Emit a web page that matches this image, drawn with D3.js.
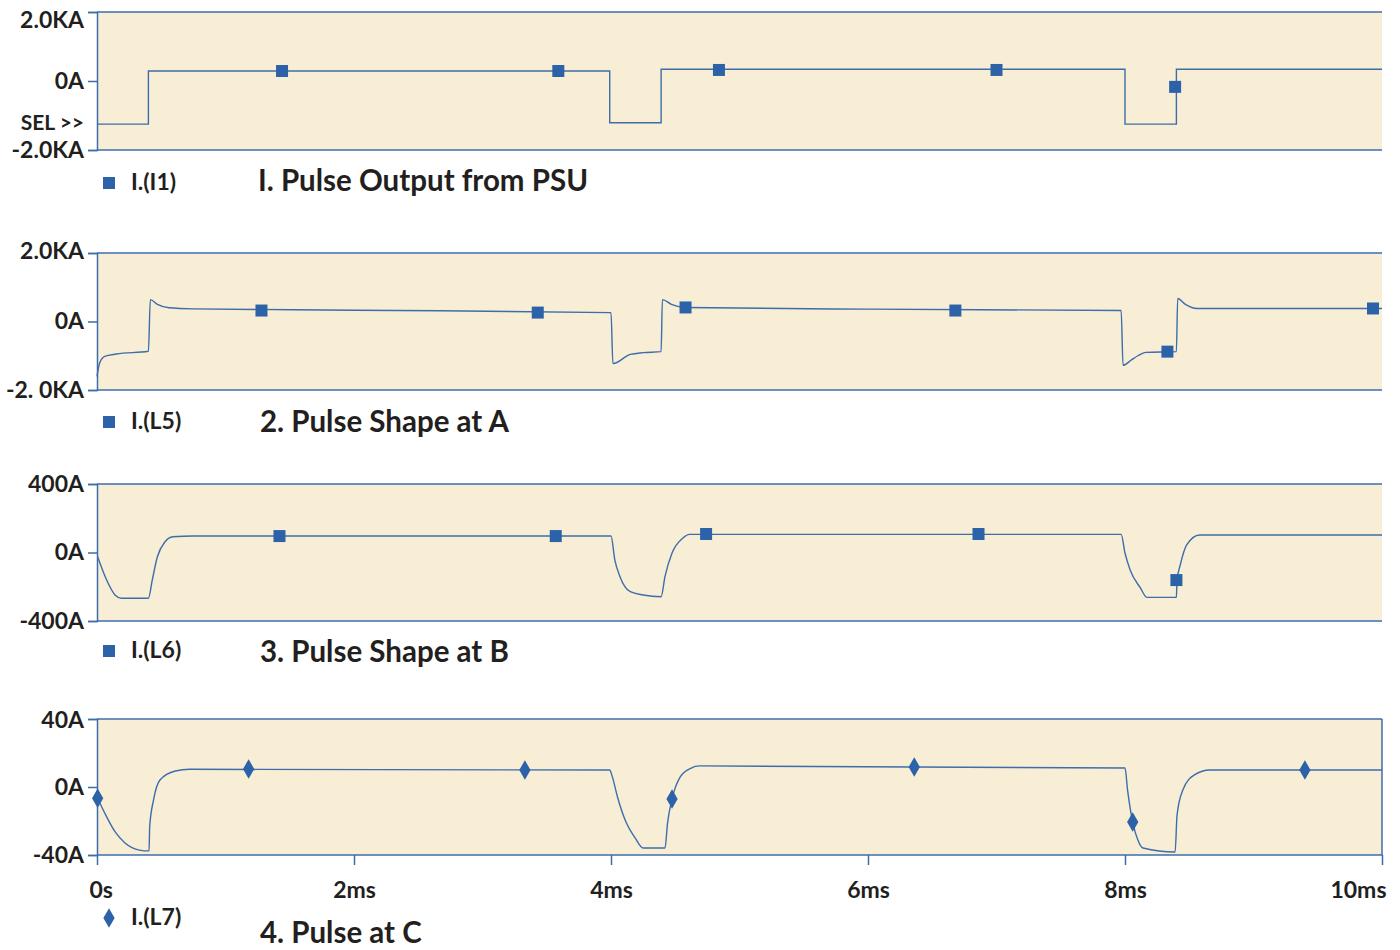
<!DOCTYPE html>
<html lang="en">
<head>
<meta charset="utf-8">
<title>Pulse shapes</title>
<script src="https://d3js.org/d3.v7.min.js"></script>
<style>
  body { margin: 0; background: #fff; }
  text { font-family: Lato, "Open Sans", sans-serif; font-weight: bold; fill: #231f20; }
</style>
</head>
<body>
<script>
// time axis (ms)
var timeTicks = [0, 2, 4, 6, 8, 10];
var timeLabels = ['0s', '2ms', '4ms', '6ms', '8ms', '10ms'];

// panel 1: I.(I1), kA
var i1Ticks = ['-2.0KA', '0A', '2.0KA'];
var i1Points = [[0,-1.25],[0.40,-1.25],[0.40,0.29],[3.99,0.29],[3.99,-1.21],[4.39,-1.21],[4.39,0.34],[8.0,0.34],[8.0,-1.25],[8.40,-1.25],[8.40,0.34],[10,0.34]];
var i1Markers = [[1.44,0.29],[3.59,0.29],[4.84,0.32],[7.0,0.32],[8.39,-0.17]];

// panel 2: I.(L5), kA
var l5Ticks = ['-2. 0KA', '0A', '2.0KA'];
var l5Points = [[0,-1.6],[0.02,-1.22],[0.06,-1.02],[0.15,-0.95],[0.40,-0.87],[0.415,0.64],[0.47,0.5],[0.56,0.4],[0.75,0.37],[2,0.33],[4.0,0.26],
  [4.015,-1.23],[4.15,-0.96],[4.25,-0.91],[4.39,-0.88],[4.40,0.64],[4.47,0.5],[4.58,0.41],[6,0.36],[7.97,0.32],
  [7.985,-1.28],[8.05,-1.12],[8.1,-1.0],[8.16,-0.9],[8.40,-0.88],[8.41,0.67],[8.47,0.5],[8.56,0.38],[10,0.38]];
var l5Markers = [[1.28,0.32],[3.43,0.26],[4.58,0.41],[6.68,0.32],[8.33,-0.88],[9.93,0.38]];

// panel 3: I.(L6), A
var l6Ticks = ['-400A', '0A', '400A'];
var l6Points = [[0.005,-25],[0.075,-161],[0.14,-248],[0.19,-267],[0.40,-267],[0.43,-161],[0.47,-25],[0.53,63],[0.59,92],[0.75,96],[4.0,96],
  [4.03,-44],[4.07,-141],[4.15,-229],[4.25,-248],[4.39,-258],[4.42,-141],[4.475,-3],[4.56,85],[4.61,106],[7.97,106],
  [8.0,-3],[8.04,-102],[8.12,-207],[8.17,-262],[8.40,-262],[8.405,-161],[8.43,-73],[8.48,44],[8.58,102],[10,102]];
var l6Markers = [[1.42,96],[3.57,96],[4.74,108],[6.86,108],[8.40,-161]];

// panel 4: I.(L7), A
var l7Ticks = ['-40A', '0A', '40A'];
var l7Points = [[0.005,-6.6],[0.06,-15.3],[0.14,-26.3],[0.22,-33.1],[0.33,-37.1],[0.405,-37.6],[0.41,-23.4],[0.44,-7.6],[0.49,4.1],[0.61,9.4],[0.72,10.4],[3.99,10],
  [4.01,6.1],[4.05,-5.7],[4.11,-19.4],[4.19,-30.2],[4.25,-35.9],[4.42,-35.9],[4.44,-21.2],[4.475,-7.1],[4.54,6.1],[4.62,11],[4.69,12.4],[8.0,11.2],
  [8.02,-1.8],[8.06,-20.6],[8.10,-31.2],[8.14,-35.9],[8.39,-38.2],[8.405,-16.5],[8.45,-1.8],[8.54,7.1],[8.66,10],[10,10]];
var l7Markers = [[0.005,-6.6],[1.18,10.6],[3.33,10],[4.475,-7.1],[6.36,11.8],[8.06,-20.6],[9.40,10]];

var w = 1400, h = 950;
var left = 97, right = 1382;
var bg = '#f8edd5', blue = '#2b62a8', lineCol = '#3d6dab';

var svg = d3.select('body').append('svg')
    .attr('width', w)
    .attr('height', h);

var x = d3.scaleLinear().domain([0, 10]).range([left, right]);

var panels = [
  { top: 12,  bottom: 150, max: 2,   ticks: i1Ticks, pts: i1Points, marks: i1Markers, curve: d3.curveLinear,
    name: 'I.(I1)', title: 'I. Pulse Output from PSU', legendY: 183, titleX: 258, titleY: 181, shape: d3.symbolSquare, topDy: 8 },
  { top: 253, bottom: 390, max: 2,   ticks: l5Ticks, pts: l5Points, marks: l5Markers, curve: d3.curveMonotoneX,
    name: 'I.(L5)', title: '2. Pulse Shape at A', legendY: 422, titleX: 260, titleY: 422, shape: d3.symbolSquare, topDy: -2 },
  { top: 484, bottom: 621, max: 400, ticks: l6Ticks, pts: l6Points, marks: l6Markers, curve: d3.curveMonotoneX,
    name: 'I.(L6)', title: '3. Pulse Shape at B', legendY: 651, titleX: 260, titleY: 652, shape: d3.symbolSquare, topDy: 0 },
  { top: 719, bottom: 855, max: 40,  ticks: l7Ticks, pts: l7Points, marks: l7Markers, curve: d3.curveMonotoneX,
    name: 'I.(L7)', title: '4. Pulse at C', legendY: 918, titleX: 260, titleY: 933, shape: d3.symbolDiamond, topDy: 1 }
];

panels.forEach(function(p, i) {
    var y = d3.scaleLinear().domain([-p.max, p.max]).range([p.bottom, p.top]);
    var g = svg.append('g');

    g.append('rect')
        .attr('x', left).attr('y', p.top)
        .attr('width', right - left).attr('height', p.bottom - p.top)
        .attr('fill', bg);

    // frame: top, bottom, left (and right on the last panel)
    g.append('line').attr('x1', left).attr('x2', right).attr('y1', p.top).attr('y2', p.top)
        .attr('stroke', lineCol).attr('stroke-width', 1.5);
    g.append('line').attr('x1', left).attr('x2', right).attr('y1', p.bottom).attr('y2', p.bottom)
        .attr('stroke', lineCol).attr('stroke-width', 1.5);
    if (i == 3) {
        g.append('line').attr('x1', right).attr('x2', right).attr('y1', p.top).attr('y2', p.bottom)
            .attr('stroke', lineCol).attr('stroke-width', 1.5);
    }

    var yAxis = d3.axisLeft(y)
        .tickValues([-p.max, 0, p.max])
        .tickSize(9)
        .tickPadding(4)
        .tickFormat(function(d, k) { return p.ticks[k]; });

    var ax = g.append('g')
        .attr('transform', 'translate(' + left + ',0)')
        .call(yAxis);
    ax.select('.domain').attr('stroke', lineCol).attr('stroke-width', 1.5);
    ax.selectAll('.tick line').attr('stroke', lineCol).attr('stroke-width', 1.5);
    ax.selectAll('.tick text')
        .attr('font-family', 'Lato, sans-serif')
        .attr('font-weight', 'bold')
        .attr('font-size', 23)
        .attr('fill', '#231f20')
        .attr('dy', function(d) { return d == p.max ? (0.32 + p.topDy / 23) + 'em' : '0.32em'; });

    if (i == 0) {
        g.append('text')
            .attr('x', 84).attr('y', 123).attr('dy', '0.35em')
            .attr('text-anchor', 'end')
            .attr('font-size', 21)
            .text('SEL >>');
    }

    // waveform
    var line = d3.line()
        .x(function(d) { return x(d[0]); })
        .y(function(d) { return y(d[1]); })
        .curve(p.curve);

    g.append('path')
        .datum(p.pts)
        .attr('d', line)
        .attr('fill', 'none')
        .attr('stroke', lineCol)
        .attr('stroke-width', 1.4);

    var sym = d3.symbol().type(p.shape).size(p.shape == d3.symbolSquare ? 144 : 110);

    g.selectAll('.mk')
        .data(p.marks)
        .enter()
        .append('path')
        .attr('d', sym)
        .attr('transform', function(d) { return 'translate(' + x(d[0]) + ',' + y(d[1]) + ')'; })
        .attr('fill', blue);

    // legend + title
    g.append('path')
        .attr('d', sym)
        .attr('transform', 'translate(109,' + p.legendY + ')')
        .attr('fill', blue);
    g.append('text')
        .attr('x', 131).attr('y', p.legendY - 1).attr('dy', '0.33em')
        .attr('font-size', 23)
        .text(p.name);
    g.append('text')
        .attr('x', p.titleX).attr('y', p.titleY).attr('dy', '0.35em')
        .attr('font-size', 29.5)
        .text(p.title);

    if (i == 3) {
        var xAxis = d3.axisBottom(x)
            .tickValues(timeTicks)
            .tickSize(10)
            .tickPadding(17)
            .tickFormat(function(d, k) { return timeLabels[k]; });
        var xa = g.append('g')
            .attr('transform', 'translate(0,' + p.bottom + ')')
            .call(xAxis);
        xa.select('.domain').remove();
        xa.selectAll('.tick line').attr('stroke', lineCol).attr('stroke-width', 1.5);
        xa.selectAll('.tick text')
            .attr('font-family', 'Lato, sans-serif')
            .attr('font-weight', 'bold')
            .attr('font-size', 23)
            .attr('fill', '#231f20')
            .attr('text-anchor', function(d) { return d == 0 ? 'start' : (d == 10 ? 'end' : 'middle'); })
            .attr('dx', function(d) { return d == 0 ? -8 : (d == 10 ? 4 : 0); });
    }
});
</script>
</body>
</html>
